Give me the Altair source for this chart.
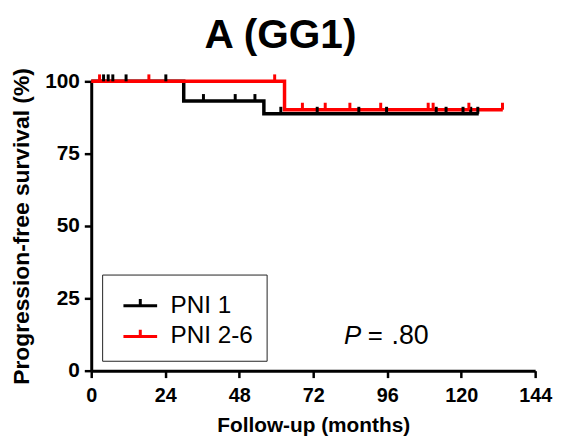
import altair as alt
import pandas as pd

# Kaplan-Meier step points (months, survival %)
groups = ["PNI 1", "PNI 2-6"]
black_times = [0, 30, 56, 125.7]
black_surv = [100, 93.2, 88.8, 88.8]
red_times = [0, 62.7, 133.5]
red_surv = [100, 90.2, 90.2]

# censored observations
black_cens_times = [4, 5.5, 7, 11.3, 24.2, 36.4, 46.7, 53.1, 61.5, 73.3, 86.8, 95.8, 111.9, 115.1, 120.6, 123.1, 125.4]
black_cens_surv = [100, 100, 100, 100, 100, 93.2, 93.2, 93.2, 88.8, 88.8, 88.8, 88.8, 88.8, 88.8, 88.8, 88.8, 88.8]
red_cens_times = [2.7, 18.7, 59.5, 68.5, 75.9, 83.9, 93.9, 109.3, 110.9, 122.5, 133.4]
red_cens_surv = [100, 100, 100, 90.2, 90.2, 90.2, 90.2, 90.2, 90.2, 90.2, 90.2]

x_ticks = [0, 24, 48, 72, 96, 120, 144]
y_ticks = [0, 25, 50, 75, 100]
colors = ["black", "red"]

lines = pd.DataFrame(
    [{"t": t, "s": s, "g": groups[0]} for t, s in zip(black_times, black_surv)]
    + [{"t": t, "s": s, "g": groups[1]} for t, s in zip(red_times, red_surv)]
)
cens = pd.DataFrame(
    [{"t": t, "s": s, "g": groups[0]} for t, s in zip(black_cens_times, black_cens_surv)]
    + [{"t": t, "s": s, "g": groups[1]} for t, s in zip(red_cens_times, red_cens_surv)]
)

FONT = "Liberation Sans"

legend = alt.Legend(
    title=None,
    orient="none",
    legendX=11,
    legendY=195,
    strokeColor="#222",
    padding=13,
    symbolType="M-1,0H1M0,0V-0.4",
    symbolSize=1156,
    symbolStrokeWidth=3,
    symbolOffset=7,
    labelFont=FONT,
    labelFontSize=24.5,
    labelColor="black",
    labelOffset=12,
    rowPadding=1,
)

x = alt.X(
    "t:Q",
    scale=alt.Scale(domain=[0, 144], nice=False, zero=True),
    axis=alt.Axis(values=x_ticks, title="Follow-up (months)", grid=False, labelFlush=False),
)
y = alt.Y(
    "s:Q",
    scale=alt.Scale(domain=[0, 100], nice=False),
    axis=alt.Axis(values=y_ticks, title="Progression-free survival (%)", grid=False, labelFlush=False),
)
color = alt.Color("g:N", scale=alt.Scale(domain=groups, range=colors), legend=legend)

line_layer = alt.Chart(lines).mark_line(interpolate="step-after", strokeWidth=3.5).encode(
    x=x, y=y, color=color, detail="g:N"
)
cens_layer = alt.Chart(cens).mark_point(
    shape="M0,0V-1", size=196, strokeWidth=3, filled=False, opacity=1
).encode(x="t:Q", y="s:Q", color=color)

one = pd.DataFrame({"a": [0]})
p_text = alt.Chart(one).mark_text(
    text="P", font=FONT, fontSize=26, fontStyle="italic", align="left", baseline="alphabetic", color="black"
).encode(x=alt.value(255), y=alt.value(265))
p_eq = alt.Chart(one).mark_text(
    text="=", font=FONT, fontSize=26, align="left", baseline="alphabetic", color="black"
).encode(x=alt.value(279), y=alt.value(265))
p_val = alt.Chart(one).mark_text(
    text=".80", font=FONT, fontSize=27, align="left", baseline="alphabetic", color="black"
).encode(x=alt.value(303), y=alt.value(265))

chart = (
    alt.layer(line_layer, cens_layer, p_text, p_eq, p_val)
    .properties(
        width=448,
        height=292,
        autosize=alt.AutoSizeParams(type="none"),
        padding={"left": 84, "top": 72, "right": 18, "bottom": 72},
        title=alt.TitleParams(
            "A (GG1)", font=FONT, fontSize=41, fontWeight="bold", color="black",
            anchor="middle", dx=-33, offset=11,
        ),
    )
    .configure_view(stroke=None)
    .configure_axis(
        domainColor="black",
        domainWidth=3,
        tickColor="black",
        tickWidth=2.5,
        tickSize=7,
        labelFont=FONT,
        labelFontSize=21,
        labelFontWeight="bold",
        labelColor="black",
        titleFont=FONT,
        titleFontWeight="bold",
        titleColor="black",
    )
    .configure_axisX(labelPadding=8, labelFontSize=20, titleFontSize=21, titlePadding=9)
    .configure_axisY(labelPadding=5, titleFontSize=23, titlePadding=11)
)

chart.save("out.html", embed_options={"renderer": "svg", "actions": False})
